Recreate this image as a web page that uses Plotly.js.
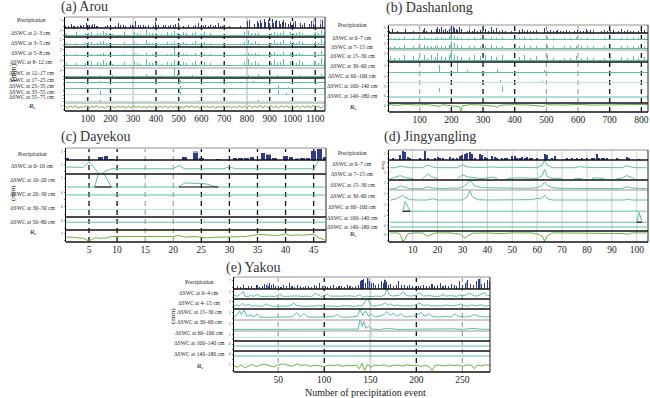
<!DOCTYPE html>
<html><head><meta charset="utf-8">
<script src="https://cdn.plot.ly/plotly-3.0.1.min.js"></script>
<style>html,body{margin:0;padding:0;background:#fff}#chart{width:650px;height:398px}</style>
</head><body><div id="chart"></div>
<script>
// ---------------- DATA ----------------
const aTicks=[100,200,300,400,500,600,700,800,900,1000,1100];
const bTicks=[100,200,300,400,500,600,700,800];
const cTicks=[5,10,15,20,25,30,35,40,45];
const dTicks=[10,20,30,40,50,60,70,80,90,100];
const eTicks=[50,100,150,200,250];

const aLabels=['Precipitation','ΔSWC at 2–3 cm','ΔSWC at 3–5 cm','ΔSWC at 5–8 cm','ΔSWC at 8–12 cm','ΔSWC at 12–17 cm','ΔSWC at 17–25 cm','ΔSWC at 25–35 cm','ΔSWC at 35–55 cm','ΔSWC at 55–75 cm','<i>R</i><sub>s</sub>'];
const bLabels=['Precipitation','ΔSWC at 0–7 cm','ΔSWC at 7–15 cm','ΔSWC at 15–30 cm','ΔSWC at 30–60 cm','ΔSWC at 60–100 cm','ΔSWC at 100–140 cm','ΔSWC at 140–180 cm','<i>R</i><sub>s</sub>'];
const cLabels=['Precipitation','ΔSWC at 0–10 cm','ΔSWC at 10–20 cm','ΔSWC at 20–30 cm','ΔSWC at 30–50 cm','ΔSWC at 50–80 cm','<i>R</i><sub>s</sub>'];
const dLabels=['Precipitation','ΔSWC at 0–7 cm','ΔSWC at 7–15 cm','ΔSWC at 15–30 cm','ΔSWC at 30–60 cm','ΔSWC at 60–100 cm','ΔSWC at 100–140 cm','ΔSWC at 140–180 cm','<i>R</i><sub>s</sub>'];
const eLabels=['Precipitation','ΔSWC at 0–4 cm','ΔSWC at 4–15 cm','ΔSWC at 15–30 cm','ΔSWC at 30–60 cm','ΔSWC at 60–100 cm','ΔSWC at 100–140 cm','ΔSWC at 140–180 cm','<i>R</i><sub>s</sub>'];

// (a) Arou
const aPrecipX=[3,9,15,22,30,36,41,48,55,61,67,74,80,88,95,101,108,116,122,129,137,143,150,158,163,171,178,186,193,200,207,215,221,229,236,244,251,258,266,273,281,288,296,302,309,317,324,331,339,346,353,361,368,374,382,389,397,404,411,418,426,433,441,448,455,463,470,477,485,492,499,506,514,521,528,536,543,550,558,565,573,580,587,594,602,609,617,624,631,639,646,653,661,668,676,684,692,700,722,748,772,795,803,811,818,826,834,840,846,852,858,864,870,876,882,888,894,900,906,912,918,924,930,936,942,948,955,962,969,976,983,990,997,1004,1012,1020,1028,1036,1044,1052,1060,1068,1076,1084,1092,1100,1108,1116,1124,1132,1139];
const aPrecipY=[2,3,1.5,2.5,4,2,1.5,3,2,6,
2.5,1.5,3,2,4.5,2,3,1.5,2.5,3.5,
2,1.5,5,2.5,3,2,1.5,3,4,2,
2.5,3,1.5,2,5,2.5,2,3,1.5,2,
4,2.5,3,1.5,6.5,2,3,2.5,1.5,3,
2,4,2.5,1.5,3,2,5.5,2.5,3,2,
1.5,3,2.5,4,2,3,1.5,2.5,3.5,2,
5,2.5,3,1.5,2,4,2.5,3,2,1.5,
3,2.5,5,2,3,1.5,2.5,4,2,3,
2,1.5,3,2.5,4.5,2,1.5,3,1.5,2,
1.5,1,6,7,5,6.5,4,5,6,4.5,
7,5,6,8,5.5,6,7,5,6.5,8,
5,6,7.5,5,6,4,5.5,7,4.5,5,
4,5.5,3,4.5,6,3.5,4,5,3,4.5,
3,5,4,6,3.5,8,4,5,3.5,7,4];
const aPrecipLX=[122,352,639,800,818,1004,1092,1124];
const aPrecipLY=[4,5,3.5,9,8.5,6,7,8];
const aEv=[6,18,31,44,52,66,79,90,104,117,128,142,155,168,181,196,209,233,262,290,305,318,331,347,359,372,386,399,413,425,440,452,467,481,494,508,521,535,549,560,575,589,601,614,628,641,655,668,690,730,790,806,821,838,852,866,879,893,907,920,934,948,962,976,990,1004,1018,1031,1045,1059,1072,1086,1100,1114,1127,1140];
const a23Y=[1,0.6,1.5,0.8,1.2,0.6,2,0.8,0.7,1.4,0.6,1,0.8,1.6,0.7,1,0.6,0.8,1.2,0.7,1.5,0.9,0.6,1.1,2.2,0.7,1,0.8,1.4,0.6,0.9,1.2,0.7,1.8,1,0.6,1.3,0.8,1,0.7,1.5,0.9,0.6,1.2,0.8,1,0.7,0.9,0.6,0.8,1.2,1.6,0.8,1.1,0.7,2.4,0.9,1.3,0.8,1.5,0.7,1,1.8,0.8,1.2,0.9,0.7,1.4,1,0.8,1.6,0.9,1.2,0.7,2,1];
const a35Y=[0.8,0.5,1.2,1,0.6,0.9,1.8,0.6,1,1.2,0.5,0.8,1,1.4,0.6,0.9,0.5,0.7,1,0.6,1.2,0.8,0.5,1,2,0.6,0.9,0.7,1.6,0.5,0.8,1,0.6,1.5,0.9,0.5,1.1,0.7,0.9,0.6,1.3,0.8,0.5,1,0.7,0.9,0.6,0.8,0.5,0.7,1,1.8,0.9,1.3,0.8,2.6,1,1.5,0.9,1.7,0.8,1.1,2,0.9,1.4,1,0.8,1.6,1.1,0.9,1.8,1,1.4,0.8,2.2,1.1];
const a58Y=[0.4,0,0.8,0.3,0.5,0,1.2,0.3,0.4,0.6,0.3,0.5,0.4,0.8,0.3,0.5,0,0.3,0.5,0.3,0.8,0.4,0.3,0.6,1,0.3,0.5,0.4,0.8,0.3,0.5,0.6,0.4,3.5,0.6,0.3,0.7,0.4,0.5,0.3,0.8,0.5,0.3,0.6,0.4,0.5,0.3,0.5,0.3,0.4,0.6,1,0.5,0.8,0.5,2.5,0.6,1.8,0.5,1.2,0.5,0.7,1.5,0.5,0.8,0.6,0.5,1,0.7,0.5,1.2,0.6,0.9,0.5,1.8,0.6];
const a812Y=[1,0.7,2,1.2,0.8,1.1,2.5,0.9,1.2,1.5,0.8,1.2,1,1.8,0.9,1.1,0.7,0.9,1.3,0.8,1.6,1,0.7,1.2,2.4,0.8,1.1,0.9,1.7,0.7,1,1.3,0.8,2,1.1,0.7,1.4,0.9,1.1,0.8,1.6,1,0.7,1.3,0.9,1.1,0.8,1,0.7,0.9,1.3,2.2,1,1.6,1,3,1.2,2.5,1,2,0.9,1.2,2.4,1,1.5,1.1,0.9,1.8,1.2,1,2,1.1,1.6,0.9,2.8,1.2];
const a1217X=[31,79,155,209,290,359,425,481,494,560,628,806,852,866,893,934,976,1031,1086,1127];
const a1217Y=[0.8,1,0.6,0.7,0.8,1,0.6,4,1.2,0.7,0.6,0.8,1.2,1.5,0.9,0.8,1,0.7,0.9,1.1];
const a1725X=[155,450,507,590,830,954];
const a1725Y=[1.5,1,2,0.8,1.2,2.5];
const a2535X=[507,675,938,982];
const a2535Y=[2,1,3,1.5];
const a3555X=[156,507,740,938,975];
const a3555Y=[3,2.5,1,4,1.5];
const a5575X=[156,590,850];
const a5575Y=[1,0.6,0.8];
const aRsX=[1,11,23,34,46,57,70,80,93,105,116,127,139,152,162,174,187,197,209,221,232,243,255,268,278,290,303,313,325,337,348,359,371,384,394,406,417,429,442,452,464,477,487,499,511,522,533,545,558,568,580,591,603,616,626,638,649,661,674,684,696,707,719,732,742,754,765,777,790,800,812,823,835,848,858,870,881,893,906,916,928,939,951,964,974,986,997,1009,1022,1032,1044,1055,1067,1080,1090,1102,1113,1125,1138];
const aRsY=[0.3,-0.4,0.5,-0.2,0.6,-0.5,0.2,-0.3,0.7,-0.6,0.4,-0.2,0.5,-0.4,0.3,-0.6,0.6,-0.3,0.2,-0.5,0.5,-0.2,0.4,-0.6,0.3,-0.4,0.6,-0.2,0.5,-0.3,0.2,-0.5,0.4,-0.3,0.6,-0.4,0.3,-0.2,0.5,-0.6,0.4,-0.3,0.6,-1.2,0.3,-0.4,0.5,-0.2,0.7,-0.3,0.4,-0.5,0.6,-0.2,0.3,-0.4,0.5,-0.6,0.2,-0.3,0.5,-0.2,0.4,-0.5,0.3,-0.3,0.6,-0.2,0.4,-0.6,0.8,-0.4,0.5,-0.3,0.9,-0.5,0.6,-0.4,0.8,-0.3,0.5,-0.6,0.7,-0.2,0.6,-0.4,0.8,-0.3,0.5,-0.5,0.7,-0.2,0.6,-0.4,0.9,-0.3,0.5,-0.6,0.7];

// (b) Dashanlong
const bPrecipX=[5,14,22,30,38,47,55,63,71,80,88,96,104,112,116,121,129,137,145,152,157,162,169,175,182,188,194,201,206,210,215,220,226,231,237,243,250,258,266,274,283,291,299,308,317,326,334,343,352,361,370,379,389,398,407,416,425,432,441,450,459,468,477,486,495,504,513,522,531,536,545,554,563,572,581,590,599,608,617,626,630,639,648,657,666,675,684,693,702,711,720,729,738,747,756,765,774,783,792,801,810,818];
const bPrecipY=[2,4,1.5,2,3,1.5,5,2,1.5,2.5,3,1.5,2,3.5,6,2,2.5,3,2,4,7,5,6.5,3,4,2.5,5,8,7,6,4.5,3,7,5,3,6,2,3,2.5,4,2,3.5,2,5,2.5,7,3,6,2,3,2.5,4,2,3,2.5,3.5,5,2,3,2.5,2,3,2.5,4,5.5,2,3,2.5,2,3.5,2.5,2,3,2.5,4,2,3,2.5,2,4.5,2,3,2.5,2,3.5,2,3,2.5,2,3,2.5,2,4,2,3,2.5,2,3.5,2,2.5,3,2];
const bPrecipLX=[116,206,258,540,650];
const bPrecipLY=[6,9,8,4,4];
const bEv=[8,20,35,52,63,80,96,116,124,137,150,157,169,182,194,201,210,220,231,243,258,274,291,308,326,343,361,379,398,416,432,450,468,486,504,522,540,558,576,594,612,630,648,666,684,702,720,738,756,774,792,810];
const b07Y=[0.5,0.8,0.4,1,0.6,0.8,0.5,1.2,0.6,0.8,0.7,1,0.9,0.8,1,4,1.5,1,0.8,2,0.7,0.9,0.6,0.8,1.2,0.7,0.9,0.6,0.8,0.7,1,0.6,0.8,0.7,1.2,0.6,0.8,0.7,0.6,0.9,0.7,0.8,0.6,0.9,0.7,1,0.6,0.8,0.7,0.9,0.6,0.8];
const b715Y=[0.6,1,0.5,1.2,0.8,1,0.6,1.5,0.8,1,0.9,1.3,1.1,1,1.2,4,2,1.2,1,2.2,0.8,1,0.7,1,1.4,0.9,1.1,0.7,1,0.8,1.2,0.7,1,0.8,1.5,0.7,1,0.8,0.7,1.1,0.8,1,0.7,1.1,0.8,1.2,0.7,1,0.8,1.1,0.7,1];
const b1530Y=[1.5,1,0.8,2,1.2,1.5,1,2,1,1.8,1.2,2.5,1.5,1.2,1.8,3.5,2,1.5,1.2,2.5,1.2,1.8,1.5,2,1.5,1.2,1.8,1,1.5,1.2,1.8,1,1.5,1.2,2,1,1.2,1,0.8,1.5,1,1.2,0.8,1.5,1,1.8,0.8,1.2,1,1.5,0.8,1.2];
const b3060X=[63,163,220,250,345,360,495,540];
const b3060Y=[1,3,4,0.8,1.2,1,0.8,0.6];
const b60100X=[227,355,489];
const b60100Y=[4,1,0.6];
const b100140X=[163,180,205,362];
const b100140Y=[2,1.5,3,3];
const b140180X=[3,821];
const b140180Y=[0,0];
const bRsX=[3,30,60,90,120,150,165,170,200,225,230,235,260,300,340,345,350,360,400,450,490,495,500,550,600,650,700,750,800,821];
const bRsY=[0,-0.3,0.2,-0.2,0.1,-0.3,-0.8,0,-0.4,-1,-3,-0.5,0,-0.2,-0.8,-1.5,-0.6,-0.2,0,-0.2,-0.8,-0.3,0,-0.2,0.1,-0.2,0,-0.1,0.1,0];

// (c) Dayekou
const cPrecipX=[1,7,8,9,22,24,25,28,31,32,33,34,36,37,38,40,41,42,43,44,45,46,47];
const cPrecipY=[0.4,0.6,0.9,0.3,0.6,1.5,0.4,0.3,0.4,0.4,0.4,0.6,1.5,1.1,0.4,0.9,0.6,0.3,0.4,0.4,1.8,2.3,0.7];
const cPrecipLX=[9,24,37,42];
const cPrecipLY=[0.3,1.9,1.3,0.4];
const c010X=[1,2,3,4,5,6,7,8,9,20,21,22,29,30,31,45,46,47];
const c010Y=[0.5,0.5,0.6,0.4,2,0,-1.8,-0.6,0,0,0.9,0,0,0.6,0,0,2.5,2.4];
const c1020X=[1,6,7,8,9,21,22,25,26,27,28,47];
const c1020Y=[0,0,2,1,0,0,0.4,0.35,0.3,0.1,0,0];
const c1020BlkX=[6,9,null,21,28];
const c1020BlkY=[0,0,null,0,0];
const cDeepX=[1,47];
const c2030Y=[0,0];
const c3050Y=[0,0];
const c5080Y=[0,0];
const cRsX=[1,2,3,4,5,6,7,8,9,20,21,22,23,24,25,26,27,28,29,30,31,32,33,34,35,36,37,38,39,40,41,42,43,44,45,46,47];
const cRsY=[1,1,0.5,0.2,-1.6,0.6,0.2,0.4,1.4,1.4,2,1,1.2,1.4,0.8,0.4,0.8,1,1.2,1.4,1.2,1.3,1.4,2,2.6,2.6,2.2,2,2.2,3,2,2.4,2.2,2.6,2.8,0.4,-1];

// (d) Jingyangling
const dPrecipX=[2,5,6,7,8,9,13,15,16,19,20,21,22,25,26,28,29,30,31,32,33,34,35,37,38,39,40,42,43,44,46,47,48,50,51,52,53,54,55,56,57,58,60,63,64,66,67,71,72,73,74,75,76,77,78,79,80,82,83,84,85,86,87,88,92,93,96,97,101];
const dPrecipY=[0.5,1.5,3,2.5,1,0.8,0.5,3,0.8,0.5,1,0.6,0.8,1,0.6,0.8,1.2,1.5,2,2.2,2.5,1.8,0.8,1.8,1.6,1,0.6,1.2,1,0.6,0.5,0.8,0.6,1.2,1.2,0.8,0.6,1,0.8,1,0.6,0.8,0.6,1.8,1.6,0.8,1.2,0.4,0.5,0.4,0.5,0.4,0.5,0.4,0.5,0.4,0.5,0.6,0.8,2,0.8,0.6,0.8,0.5,0.5,0.4,1,0.8,0.4];
const d07X=[1,3,5,7,9,14,16,18,20,25,28,30,32,34,38,42,45,48,52,55,60,62,63,64,66,70,75,77,79,82,85,90,94,96,98,100,104];
const d07Y=[0,0,0.6,0.3,0,0,1,0.3,0,0,0,1.2,0.3,0.2,0.1,0.3,0.1,0.2,0.1,0,0,1,3,1,0,0,0,0.4,0.2,0,0.1,0,0,0.8,0.2,0,0];
const d715X=[1,4,5,7,10,null,14,16,18,20,null,28,30,32,34,36,38,40,42,44,null,48,52,56,60,62,63,64,66,68,70,null,75,78,null,82,84,87,null,92,94,96,98,99];
const d715Y=[0,0.5,0.8,0.3,0,null,0,1.2,0.4,0,null,0,1,0.5,0.2,0.1,0,0.2,0.4,0,null,0,0.2,0.1,0,0.8,2.5,0.6,0,0.1,0,null,0,0,null,0,0.2,0,null,0,0.1,0.8,0.2,0];
const d1530X=[1,3,5,7,9,14,16,18,22,26,28,30,32,33,35,38,42,46,50,55,58,60,62,63,64,66,70,80,90,94,96,98,104];
const d1530Y=[0,0,0.8,0.3,0,0,0.5,0.2,0,0.2,0.1,0.5,1.5,2.5,0.8,0.3,0.2,0.3,0.2,0.1,0.2,0.3,1,2,1,0.3,0.1,0,0,0,0.6,0.2,0];
const d3060X=[1,3,5,6,7,9,12,16,18,20,25,30,32,33,34,36,40,50,58,60,61,62,63,64,66,70,80,95,96,98,104];
const d3060Y=[0,0.2,1,1.4,0.8,0.1,0,0,0.4,0,0,0,1,2.8,1,0.1,0,0,0.1,0.5,0.3,0.6,1.4,0.4,0,0,0,0,0.3,0,0];
const d60100X=[6,7,9,104];
const d60100Y=[0,2.5,0,0];
const d60100BlkX=[6,9];
const d60100BlkY=[0,0];
const d100140X=[1,100,101,102,104];
const d100140Y=[0,0,2.5,0,0];
const d100140BlkX=[100,102];
const d100140BlkY=[0,0];
const d140180X=[1,104];
const d140180Y=[0,0];
const dRsX=[1,4,5,6,7,8,10,14,16,17,19,25,29,31,32,34,40,45,50,58,60,62,63,64,66,70,80,90,95,96,98,104];
const dRsY=[0,0,-0.5,-2.5,-2,-0.3,0,0,-1,-0.6,0,0,-0.3,-1.6,-1,-0.1,0,-0.2,0,0,-0.3,-1,-2.5,-1,0,0,0,0,-0.2,-0.5,0,0];

// (e) Yakou
const ePrecipX=[3,6,9,12,15,18,21,24,27,30,33,35,37,39,41,43,45,47,50,53,56,59,62,65,68,71,74,77,80,83,86,89,92,95,98,101,104,107,110,113,116,119,122,125,128,131,134,137,139,141,143,145,147,149,151,153,156,159,162,164,166,168,170,172,175,178,181,184,187,190,193,196,199,202,205,208,211,214,217,220,223,226,229,232,235,238,241,244,247,250,253,256,259,262,265,268,271,274,277,279];
const ePrecipY=[1,2,1.5,3,1,2,2.5,1,3,1.5,2,4,3,2.5,5,3.5,4,2,2.5,1.5,3,2,5,2,1.5,3,2,1.5,2.5,2,1.5,3,2,5,2.5,2,1.5,2,3,1.5,2,2.5,1.5,3,2,1.5,2,3.5,6,7,8,5,9,6,4.5,5,3,4,6,5,7,5.5,3,4,2.5,3,6,3.5,3,2.5,3,2,1.5,2.5,2,3,2.5,2,4,2.5,3,5,2,3,2.5,4,3,2.5,6,3,5,7,4,3,6,8,4,5,7,6];
const ePrecipLX=[38,100,148,165,255,270];
const ePrecipLY=[5,3,9,8,6,9];
const e04X=[2,6,9,12,14,17,20,24,27,30,35,40,46,50,52,54,58,64,70,76,82,86,88,90,96,100,103,106,112,120,128,134,139,142,146,150,156,162,166,168,170,174,178,182,186,189,194,200,203,208,214,220,226,229,232,238,244,247,250,254,258,262,266,270,274,277,280];
const e04Y=[1.2,1,1.8,2.5,1,0.8,1.2,1,1.6,1,0.8,1,0.9,1.2,1.8,1,0.9,1,1.1,0.9,1,0.8,1.2,2,1,0.9,1.8,1,0.9,1,1.1,0.9,1.5,0.6,1,0.8,1,0.9,1.5,4,1.5,1,1.2,1.4,2.5,1.2,1,1.3,2.2,1,1.2,0.9,1,1.6,1,1.2,0.9,1.5,1.1,1.4,2,1.2,1,1.5,2.2,1.1,1.3];
const e515X=[2,5,8,11,14,18,22,26,30,34,37,40,45,50,55,60,64,67,70,75,80,86,90,95,100,105,110,116,122,128,134,138,141,144,147,150,153,158,163,166,169,172,176,180,185,190,195,200,204,208,212,216,220,226,232,238,244,248,252,256,260,265,270,275,280];
const e515Y=[1,1.5,1,2,1.2,1.6,1,1.3,0.9,1.1,1.8,1.2,1,0.9,1.1,1,1.4,2,1.2,1,0.9,1.1,1,1.3,0.9,1.1,1,0.9,1.2,1,0.9,1.3,1,2.5,4,1.5,1,1.2,1.5,2.2,1.3,1.8,1.1,1.4,1,1.2,1,1.6,2,1.1,1.5,1,1.2,1,1.4,1.1,1.3,1.8,1.2,1,1.4,1.1,1.5,1,1.2];
const e1530X=[2,5,8,10,13,16,20,24,27,30,35,45,55,65,70,74,78,82,90,100,110,114,118,125,132,136,139,142,145,148,151,155,160,165,168,172,175,179,183,188,195,200,205,209,213,218,225,232,238,242,246,252,258,263,268,274,280];
const e1530Y=[1,1.5,3,1.8,3.2,1.2,1.6,1,2,1,0.9,1,1.1,1,2.4,1,2.2,1,0.9,1,1.1,1.8,1,0.9,1,1.2,3.5,1.5,3,1.2,2,1,1.3,1.8,2.8,1.5,2.2,1.2,2,1,1.2,1.4,2.5,1.2,2,1.1,1,1.2,1,2,1.2,1,1.1,1.8,1.2,1,1.1];
const e3060X=[2,40,70,100,130,137,139,141,143,145,148,152,160,170,180,200,220,240,250,260,270,280];
const e3060Y=[0.5,0.5,0.6,0.5,0.5,0.6,4,1.5,3,0.8,1.5,0.6,0.5,0.8,0.5,0.6,0.5,0.7,0.5,0.8,0.6,0.5];
const e60100X=[2,149,151,153,280];
const e60100Y=[0,0,1.5,0,0];
const eDeepX=[2,280];
const e100140Y=[0,0];
const e140180Y=[0,0];
const eRsX=[2,6,10,14,18,22,26,30,35,40,45,50,55,60,65,70,75,80,85,90,95,100,105,110,115,120,125,130,135,138,141,144,147,150,155,160,165,170,175,180,185,190,195,200,205,210,214,217,220,225,230,235,240,245,250,255,260,263,266,270,275,280];
const eRsY=[0,-0.5,0.3,-0.8,0,0.4,-0.3,0.2,0.5,0,-0.4,0.3,0.6,0.2,-0.2,0.5,0.1,0.3,-0.2,0.2,0,-0.3,0.2,0,0.3,-0.2,0.1,0,0.2,-1,0.8,-1.5,0.5,-0.5,0.2,0,0.3,-0.2,0.1,0.2,-0.1,0.3,0,0.2,-0.2,0.1,-0.3,-1.5,0,0.2,-0.1,0.3,0,0.2,-0.2,0.3,0.1,-1,0.2,0,0.3,0.1];

// ---------------- STYLE / LAYOUT ----------------
const NAVY='#2f3a88', LAV='#a3a8da', TEAL='#5cbfa2', LTEAL='#b8e3d5', GREEN='#6ab23c';
const FONT='Liberation Serif';
const W=650,H=398;
const fy=p=>1-p/H, fx=p=>p/W;

const panels=[
 {title:'(a) Arou',tx:59,ty:7,x0:65,x1:325,xr:[0,1143],xt:aTicks,bw:3,lx:31,
  gk:[100,200,400,500,600,700,900,1000,1100],gg:[300,800],gs:[],
  rows:[
   {l:0,t:17,b:28,ly:20,k:'bar',x:aPrecipX,y:aPrecipY,lbx:aPrecipLX,lby:aPrecipLY,c:NAVY,yr:[0,10],sep:'k'},
   {l:1,t:28,b:37,ly:33,k:'bar',x:aEv,y:a23Y,c:TEAL,yr:[-0.8,3],zl:TEAL,sep:'k'},
   {l:2,t:37,b:47,ly:43,k:'bar',x:aEv,y:a35Y,c:TEAL,yr:[-0.8,3],zl:TEAL,sep:'k'},
   {l:3,t:47,b:57,ly:53,k:'bar',x:aEv,y:a58Y,c:TEAL,yr:[-0.8,3.6],zl:TEAL,sep:null},
   {l:4,t:57,b:68,ly:62,k:'bar',x:aEv,y:a812Y,c:TEAL,yr:[-0.8,3],zl:TEAL,sep:'g'},
   {l:5,t:68,b:78,ly:73,k:'bar',x:a1217X,y:a1217Y,c:TEAL,yr:[-0.8,4],zl:TEAL,sep:'k'},
   {l:6,t:78,b:84,ly:80,k:'bar',x:a1725X,y:a1725Y,c:TEAL,yr:[-1,4],zl:TEAL,sep:null,nt:true},
   {l:7,t:84,b:90,ly:86,k:'bar',x:a2535X,y:a2535Y,c:TEAL,yr:[-1,4],zl:TEAL,sep:null,nt:true},
   {l:8,t:90,b:96,ly:92,k:'bar',x:a3555X,y:a3555Y,c:TEAL,yr:[-1,4],zl:LTEAL,sep:null,nt:true},
   {l:9,t:96,b:103,ly:97.5,k:'bar',x:a5575X,y:a5575Y,c:TEAL,yr:[-1,4],zl:LTEAL,sep:'g',nt:true},
   {l:10,t:103,b:111,ly:106,k:'line',x:aRsX,y:aRsY,c:GREEN,yr:[-2,2],sep:'k'}
  ]},
 {title:'(b) Dashanlong',tx:384,ty:8,x0:389,x1:648,xr:[3,821],xt:bTicks,bw:2.5,lx:352,
  gk:[200,300,400,700,800],gg:[],gs:[100,500,600],
  rows:[
   {l:0,t:25,b:33,ly:25,k:'bar',x:bPrecipX,y:bPrecipY,lbx:bPrecipLX,lby:bPrecipLY,c:NAVY,yr:[0,9],sep:'k'},
   {l:1,t:33,b:41,ly:38,k:'bar',x:bEv,y:b07Y,c:TEAL,yr:[-0.8,3],zl:TEAL,sep:null},
   {l:2,t:41,b:50,ly:47,k:'bar',x:bEv,y:b715Y,c:TEAL,yr:[-0.8,3],zl:TEAL,sep:'g'},
   {l:3,t:50,b:62,ly:56,k:'bar',x:bEv,y:b1530Y,c:TEAL,yr:[-0.5,3.5],zl:TEAL,sep:'k'},
   {l:4,t:62,b:74,ly:66,k:'bar',x:b3060X,y:b3060Y,c:TEAL,yr:[-0.8,4],zl:TEAL,sep:null},
   {l:5,t:74,b:84,ly:76,k:'bar',x:b60100X,y:b60100Y,c:TEAL,yr:[-0.8,4],zl:LTEAL,sep:null},
   {l:6,t:84,b:93,ly:86,k:'bar',x:b100140X,y:b100140Y,c:TEAL,yr:[-0.5,4],sep:null},
   {l:7,t:93,b:103,ly:96,k:'line',x:b140180X,y:b140180Y,c:TEAL,yr:[-1.2,0.8],sep:'k'},
   {l:8,t:103,b:112,ly:107,k:'line',x:bRsX,y:bRsY,c:GREEN,yr:[-3.5,0.8],sep:'k'}
  ]},
 {title:'(c) Dayekou',tx:59,ty:137,x0:66,x1:326,xr:[0.9,47.2],xt:cTicks,bw:0.8,lx:32,
  gk:[5,10,25,30,35,40,45],gg:[],gs:[15,20],
  rows:[
   {l:0,t:148,b:160,ly:154,k:'bar',x:cPrecipX,y:cPrecipY,lbx:cPrecipLX,lby:cPrecipLY,c:NAVY,yr:[0,2.5],sep:'k'},
   {l:1,t:160,b:174,ly:166,k:'line',x:c010X,y:c010Y,c:TEAL,yr:[-1.5,2.5],sep:'k'},
   {l:2,t:174,b:188,ly:180,k:'line',x:c1020X,y:c1020Y,bx:c1020BlkX,by:c1020BlkY,c:TEAL,yr:[-0.1,1.3],sep:null},
   {l:3,t:188,b:202,ly:194,k:'line',x:cDeepX,y:c2030Y,c:TEAL,yr:[-1,1],sep:null},
   {l:4,t:202,b:217,ly:208,k:'line',x:cDeepX,y:c3050Y,c:LTEAL,yr:[-1,1],sep:'k'},
   {l:5,t:217,b:230,ly:222,k:'line',x:cDeepX,y:c5080Y,c:TEAL,yr:[-1.2,0.8],sep:'k'},
   {l:6,t:230,b:242,ly:232,k:'line',x:cRsX,y:cRsY,c:GREEN,yr:[-2.2,5.6],sep:'k'}
  ]},
 {title:'(d) Jingyangling',tx:382,ty:137,x0:389,x1:648,xr:[0.5,104.5],xt:dTicks,bw:0.8,lx:352,
  gk:[],gg:[],gs:[],gl:[10,20,30,40,50,60,70,80,90,100],
  rows:[
   {l:0,t:150,b:160,ly:153,k:'bar',x:dPrecipX,y:dPrecipY,c:NAVY,yr:[0,3.2],sep:'k'},
   {l:1,t:160,b:169,ly:164,k:'line',x:d07X,y:d07Y,c:TEAL,yr:[-0.5,3],sep:null},
   {l:2,t:169,b:180,ly:174,k:'line',x:d715X,y:d715Y,c:TEAL,yr:[-0.4,2.6],sep:'k'},
   {l:3,t:180,b:190,ly:185,k:'line',x:d1530X,y:d1530Y,c:TEAL,yr:[-0.4,2.6],sep:'g'},
   {l:4,t:190,b:201,ly:196,k:'line',x:d3060X,y:d3060Y,c:TEAL,yr:[-0.3,3],sep:null},
   {l:5,t:201,b:212,ly:207,k:'line',x:d60100X,y:d60100Y,bx:d60100BlkX,by:d60100BlkY,c:TEAL,yr:[-0.2,2.6],sep:null},
   {l:6,t:212,b:223,ly:218,k:'line',x:d100140X,y:d100140Y,bx:d100140BlkX,by:d100140BlkY,c:TEAL,yr:[-0.2,2.6],sep:null},
   {l:7,t:223,b:231,ly:227,k:'line',x:d140180X,y:d140180Y,c:TEAL,yr:[-1,1],sep:'k'},
   {l:8,t:231,b:242,ly:234,k:'line',x:dRsX,y:dRsY,c:GREEN,yr:[-2.8,0.6],sep:'k'}
  ]},
 {title:'(e) Yakou',tx:224,ty:268,x0:234,x1:490,xr:[2,280],xt:eTicks,bw:1.2,lx:199,
  gk:[100,200],gg:[150],gs:[50,250],
  rows:[
   {l:0,t:277,b:289,ly:282,k:'bar',x:ePrecipX,y:ePrecipY,lbx:ePrecipLX,lby:ePrecipLY,c:NAVY,yr:[0,9.5],sep:'k'},
   {l:1,t:289,b:299,ly:293,k:'line',x:e04X,y:e04Y,c:TEAL,yr:[0,3.5],sep:'k'},
   {l:2,t:299,b:309,ly:303,k:'line',x:e515X,y:e515Y,c:TEAL,yr:[0,3.5],sep:'k'},
   {l:3,t:309,b:320,ly:312,k:'line',x:e1530X,y:e1530Y,c:TEAL,yr:[0,3.6],sep:'g'},
   {l:4,t:320,b:331,ly:322,k:'line',x:e3060X,y:e3060Y,c:TEAL,yr:[0,3.5],sep:'g'},
   {l:5,t:331,b:341,ly:333,k:'line',x:e60100X,y:e60100Y,c:LTEAL,yr:[-1.2,2],sep:'k'},
   {l:6,t:341,b:351,ly:343,k:'line',x:eDeepX,y:e100140Y,c:TEAL,yr:[-1,1],sep:'k'},
   {l:7,t:351,b:361,ly:354,k:'line',x:eDeepX,y:e140180Y,c:TEAL,yr:[-1,1],sep:null},
   {l:8,t:361,b:372,ly:366,k:'line',x:eRsX,y:eRsY,c:GREEN,yr:[-2,1.5],sep:'k'}
  ]}
];
const labelSets=[aLabels,bLabels,cLabels,dLabels,eLabels];

const data=[];
const layout={width:W,height:H,margin:{l:0,r:0,t:0,b:0},paper_bgcolor:'#fff',plot_bgcolor:'rgba(0,0,0,0)',
  showlegend:false,barmode:'overlay',bargap:0,shapes:[],annotations:[],font:{family:FONT,color:'#222'}};
let yi=0;
const sepStyle={k:{color:'#111',width:1.4},g:{color:'#999',width:1}};
panels.forEach((P,pi)=>{
  const xn=pi===0?'x':'x'+(pi+1);
  const xk=pi===0?'xaxis':'xaxis'+(pi+1);
  const lastY=yi+P.rows.length;
  layout[xk]={domain:[fx(P.x0),fx(P.x1)],range:P.xr,anchor:lastY===1?'y':'y'+lastY,tickvals:P.xt,ticks:'',
    showgrid:false,zeroline:false,showline:false,tickfont:{size:9.5,family:FONT,color:'#222'}};
  const top=P.rows[0].t, bot=P.rows[P.rows.length-1].b;
  const gl=(vals,color,dash,width)=>vals.forEach(v=>layout.shapes.push({type:'line',xref:xn,yref:'paper',x0:v,x1:v,y0:fy(bot),y1:fy(top),layer:'below',line:{color:color,width:width,dash:dash}}));
  gl(P.gk,'#111','5px,4px',1.3);
  gl(P.gg,'#d4d4d4','solid',2);
  gl(P.gs,'#999','5px,4px',1.1);
  if(P.gl) gl(P.gl,'#ccc','solid',1);
  P.rows.forEach(R=>{
    yi++;
    const yn=yi===1?'y':'y'+yi, yk=yi===1?'yaxis':'yaxis'+yi;
    const span=R.yr[1]-R.yr[0];
    const tv=[Math.round((R.yr[0]+span*0.15)*10)/10, Math.round((R.yr[1]-span*0.3)*10)/10];
    layout[yk]={domain:[fy(R.b),fy(R.t)],range:R.yr,anchor:xn,showgrid:false,zeroline:!!R.zl,zerolinecolor:R.zl||TEAL,zerolinewidth:1,
      showline:true,linecolor:'#000',linewidth:1,ticks:'outside',ticklen:1.5,tickwidth:0.6,tickcolor:'#333',
      tickvals:tv,ticktext:['',String(Math.round(tv[1]))],showticklabels:!R.nt,tickfont:{size:4,color:'#555',family:FONT}};
    if(R.k==='bar'){
      if(R.lbx) data.push({type:'bar',x:R.lbx,y:R.lby,xaxis:xn,yaxis:yn,width:P.bw,marker:{color:LAV,line:{width:0}},hoverinfo:'skip'});
      data.push({type:'bar',x:R.x,y:R.y,xaxis:xn,yaxis:yn,width:P.bw,marker:{color:R.c,line:{width:0}},hoverinfo:'skip'});
    } else {
      data.push({type:'scatter',mode:'lines',x:R.x,y:R.y,xaxis:xn,yaxis:yn,connectgaps:false,line:{color:R.c,width:1},hoverinfo:'skip'});
    }
    if(R.bx) data.push({type:'scatter',mode:'lines',x:R.bx,y:R.by,xaxis:xn,yaxis:yn,connectgaps:false,line:{color:'#000',width:1.2},hoverinfo:'skip'});
    if(R.sep) layout.shapes.push({type:'line',xref:'paper',yref:'paper',x0:fx(P.x0),x1:fx(P.x1),y0:fy(R.b),y1:fy(R.b),line:sepStyle[R.sep]});
    layout.annotations.push({xref:'paper',yref:'paper',x:fx(P.lx),y:fy(R.ly!==undefined?R.ly:(R.t+R.b)/2),text:labelSets[pi][R.l],
      showarrow:false,xanchor:'center',yanchor:'middle',font:{size:R.l===labelSets[pi].length-1?7:5.6,family:FONT,color:'#222'}});
  });
  layout.shapes.push({type:'line',xref:'paper',yref:'paper',x0:fx(P.x0),x1:fx(P.x1),y0:fy(top),y1:fy(top),line:{color:'#c8c8c8',width:2}});
  layout.shapes.push({type:'line',xref:'paper',yref:'paper',x0:fx(P.x1),x1:fx(P.x1),y0:fy(bot),y1:fy(top),line:{color:'#222',width:1}});
  layout.annotations.push({xref:'paper',yref:'paper',x:fx(P.tx),y:fy(P.ty),text:P.title,showarrow:false,xanchor:'left',yanchor:'middle',font:{size:14,family:FONT,color:'#333'}});
});
layout.annotations.push({xref:'paper',yref:'paper',x:fx(6),y:fy(62),text:'(mm)',textangle:-90,showarrow:false,font:{size:8,family:FONT,color:'#222'}});
layout.annotations.push({xref:'paper',yref:'paper',x:fx(7),y:fy(193),text:'(mm)',textangle:-90,showarrow:false,font:{size:7,family:FONT,color:'#222'}});
layout.annotations.push({xref:'paper',yref:'paper',x:fx(167),y:fy(326),text:'(mm)',textangle:-90,showarrow:false,font:{size:7,family:FONT,color:'#222'}});
layout.annotations.push({xref:'paper',yref:'paper',x:fx(383),y:fy(165),text:'(mm)',textangle:-90,showarrow:false,font:{size:4,family:FONT,color:'#222'}});
layout.annotations.push({xref:'paper',yref:'paper',x:fx(365),y:fy(392),text:'Number of precipitation event',showarrow:false,xanchor:'center',yanchor:'middle',font:{size:10,family:FONT,color:'#222'}});

Plotly.newPlot('chart',data,layout,{staticPlot:true,displayModeBar:false});
</script></body></html>
